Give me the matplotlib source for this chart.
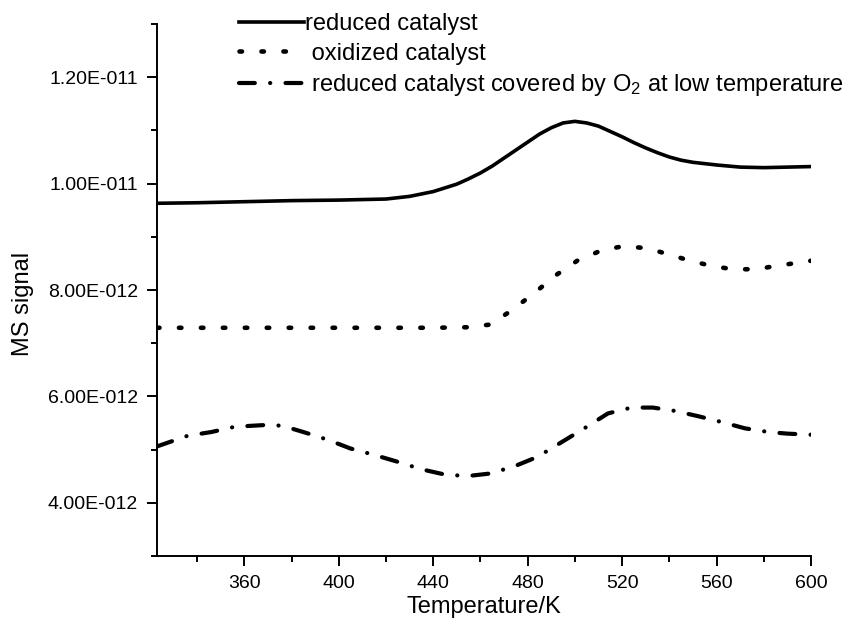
import numpy as np
import matplotlib
matplotlib.use("Agg")
import matplotlib.pyplot as plt
from matplotlib.ticker import MultipleLocator, FuncFormatter

plt.rcParams['font.family'] = ['Liberation Sans', 'DejaVu Sans']
plt.rcParams['mathtext.default'] = 'regular'
plt.rcParams['lines.scale_dashes'] = False

# Temperature (K) and MS signal (units of 1e-12)
t_reduced = [323, 340, 360, 380, 400, 420, 430, 440, 450, 455, 460, 465, 470, 475,
             480, 485, 490, 495, 500, 505, 510, 515, 520, 525, 530, 535, 540, 545,
             550, 560, 570, 580, 590, 600]
s_reduced = [9.63, 9.64, 9.66, 9.68, 9.69, 9.71, 9.76, 9.85, 9.99, 10.09, 10.20, 10.33,
             10.48, 10.63, 10.78, 10.93, 11.05, 11.14, 11.17, 11.14, 11.08, 10.98, 10.88,
             10.77, 10.67, 10.58, 10.50, 10.44, 10.40, 10.35, 10.31, 10.30, 10.31, 10.32]

t_oxidized = [323, 360, 400, 440, 455, 464, 473, 483, 492, 501, 511, 520,
              530, 539, 548, 558, 567, 577, 586, 596, 600]
s_oxidized = [7.29, 7.29, 7.29, 7.29, 7.30, 7.35, 7.61, 7.95, 8.28, 8.55, 8.74, 8.82,
              8.79, 8.68, 8.56, 8.45, 8.39, 8.39, 8.46, 8.52, 8.55]

t_covered = [323, 336, 346, 356, 368, 376, 385, 395, 405, 415, 425, 435, 444,
             454, 464, 474, 484, 494, 504, 514, 524, 533, 542, 552, 562, 572,
             582, 590, 600]
s_covered = [5.06, 5.26, 5.33, 5.43, 5.46, 5.45, 5.33, 5.19, 5.02, 4.90, 4.77, 4.63, 4.54,
             4.50, 4.55, 4.68, 4.86, 5.13, 5.40, 5.68, 5.79, 5.79, 5.73, 5.63, 5.52, 5.40,
             5.33, 5.30, 5.28]

x_ticks = [360, 400, 440, 480, 520, 560, 600]
y_ticks = [4e-12, 6e-12, 8e-12, 1e-11, 1.2e-11]

labels = ["reduced catalyst",
          " oxidized catalyst",
          " reduced catalyst covered by O$_2$ at low temperature"]

fig = plt.figure(figsize=(8.49, 6.32), dpi=100)
ax = fig.add_axes([157 / 849, 1 - 556 / 632, 654 / 849, 532 / 632])

scale = 1e-12
ax.plot(t_reduced, np.array(s_reduced) * scale, color='black', lw=2.6,
        label=labels[0])
ax.plot(t_oxidized, np.array(s_oxidized) * scale, color='black', lw=3.3,
        linestyle=(0, (1.8, 14.0)), dash_capstyle='round', label=labels[1])
ax.plot(t_covered, np.array(s_covered) * scale, color='black', lw=3.0,
        linestyle=(0, (11.4, 11.0, 0.1, 11.0)), dash_capstyle='round',
        label=labels[2])

ax.set_xlim(323, 600)
ax.set_ylim(3e-12, 1.3e-11)

ax.set_xticks(x_ticks)
ax.set_yticks(y_ticks)
ax.xaxis.set_minor_locator(MultipleLocator(20))
ax.yaxis.set_minor_locator(MultipleLocator(1e-12))


def origin_fmt(v, pos):
    m, e = f"{v:.2E}".split('E')
    e = int(e)
    return f"{m}E{'-' if e < 0 else '+'}{abs(e):03d}"


ax.yaxis.set_major_formatter(FuncFormatter(origin_fmt))

for side in ['top', 'right']:
    ax.spines[side].set_visible(False)
for side in ['left', 'bottom']:
    ax.spines[side].set_linewidth(1.4)

ax.tick_params(which='major', direction='out', length=7.5, width=1.4,
               labelsize=14, pad=6)
ax.tick_params(which='minor', direction='out', length=4.3, width=1.4)

ax.set_xlabel("Temperature/K", fontsize=17, labelpad=3)
ax.set_ylabel("MS signal", fontsize=17)
ax.yaxis.set_label_coords(-0.188, 0.473)

ax.legend(loc='upper left', bbox_to_anchor=(239 / 849, 1 - 13 / 632),
          bbox_transform=fig.transFigure, frameon=False, fontsize=17,
          handlelength=2.75, handletextpad=0.05, labelspacing=0.32,
          borderpad=0, borderaxespad=0)

fig.savefig("out.png", dpi=100)
